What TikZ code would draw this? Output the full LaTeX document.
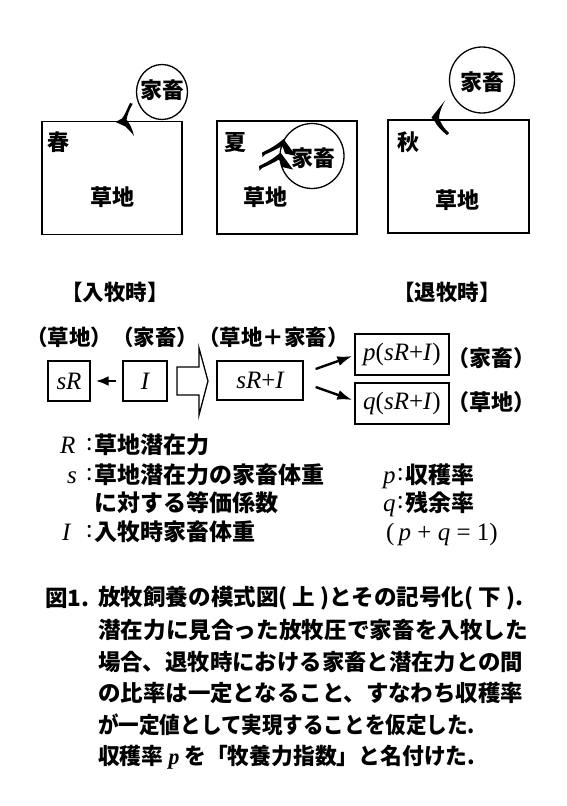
\documentclass[tikz,border=0pt]{standalone}
\usepackage{fontspec}
\usepackage{graphicx}
\setmainfont{Noto Sans CJK JP}
\newfontfamily\tms{Liberation Serif}
\usetikzlibrary{arrows.meta,calc,shapes.geometric}
\begin{document}
\begin{tikzpicture}[x=1pt,y=-1pt,
  every node/.style={inner sep=0pt, font=\bfseries\fontsize{22}{26}\selectfont},
  panel/.style={draw, line width=1.4pt, minimum width=140pt, minimum height=113pt},
  herd/.style={draw, ellipse, line width=1.3pt},
  mbox/.style={draw, line width=1.3pt, minimum height=40pt, inner sep=0pt,
    font=\tms\itshape\fontsize{25}{28}\selectfont},
  arr/.style={line width=2.4pt, -{Latex[length=15pt,width=10pt]}},
  sarr/.style={line width=2.6pt, -{Latex[length=13pt,width=10pt]}},
  lbl/.style={font=\bfseries\fontsize{21.5}{26}\selectfont},
  legtext/.style={anchor=west, font=\bfseries\fontsize{23}{28}\selectfont},
  coltext/.style={anchor=west, font=\mdseries\fontsize{23}{28}\selectfont},
  symtext/.style={anchor=base west, font=\tms\itshape\fontsize{25}{28}\selectfont},
  captext/.style={anchor=west, font=\bfseries\fontsize{22.5}{28}\selectfont},
]
\useasboundingbox (0,0) rectangle (567,806);
\fill[white] (0,0) rectangle (567,806);

% ---------- top panels ----------
\node[panel] (spring) at (112,178) {};
\node[panel] (summer) at (287,177.5) {};
\node[panel, minimum width=141pt] (autumn) at (458.5,176.5) {};

\node[herd, minimum width=51pt, minimum height=55pt] (herd1) at (162,92) {};
\node (herd1t) at (162,90) {家畜};
\node[herd, minimum width=64pt, minimum height=65pt] (herd2) at (312,156) {};
\node (herd2t) at (313,158) {家畜};
\node[herd, minimum width=65pt, minimum height=66pt] (herd3) at (482,80) {};
\node (herd3t) at (482,82) {家畜};

\node (spr) at (58,142) {春};
\node (sum) at (235,143) {夏};
\node (aut) at (408,142) {秋};
\node (g1) at (112,197) {草地};
\node (g2) at (265,197) {草地};
\node (g3) at (457,200) {草地};

% hook arrows
\fill (130,103) .. controls (127,109) and (125,115) .. (122,118.5)
  -- (115.5,122) -- (125.5,126.5) .. controls (129,130) and (131.5,132.5) .. (134,136)
  .. controls (132.5,129) and (129.5,123) .. (126.5,119.5)
  .. controls (128,113) and (130,108) .. (132.8,103.8) -- cycle;
\fill (431.5,117.5) -- (445,100.5) .. controls (441.5,107) and (439.5,112) .. (439,118)
  .. controls (441,124) and (444.5,129) .. (449,133) -- (447,135)
  .. controls (441,130.5) and (436.5,125) .. (434.5,121) -- cycle;

% chevrons (summer)
\foreach \dx/\dy in {0/0,-3/13.5}{
  \begin{scope}[shift={(\dx,\dy)}]
  \fill (283.5,139) -- (296,156) -- (285,153.5)
    .. controls (284,150) and (283,147.5) .. (282,146)
    .. controls (276,149.5) and (270,152.5) .. (265,154.5) -- (262.5,157) -- (262,152.5)
    .. controls (270,149) and (278,144) .. cycle;
  \end{scope}
}

% ---------- headings ----------
\node[lbl] (inTime) at (115,292) {【入牧時】};
\node[lbl] (outTime) at (447,292) {【退牧時】};
\node[lbl] (roles) at (187.5,337) {（草地）（家畜）（草地＋家畜）};

% ---------- symbol boxes ----------
\node[mbox, minimum width=42pt] (sR) at (69,381) {sR};
\node[mbox, minimum width=44pt] (I) at (145,381) {I};
\node[mbox, minimum width=86pt, minimum height=39pt] (sRI) at (260,380.5) {sR\textup{+}I};
\node[mbox, minimum width=94pt, minimum height=41pt] (pbox) at (402,354.5) {p\textup{(}sR\textup{+}I\textup{)}};
\node[mbox, minimum width=94pt, minimum height=41pt] (qbox) at (402,403.5) {q\textup{(}sR\textup{+}I\textup{)}};
\node[lbl, font=\bfseries\fontsize{22}{26}\selectfont] (pl) at (491,358) {（家畜）};
\node[lbl, font=\bfseries\fontsize{22}{26}\selectfont] (ql) at (491,402) {（草地）};

\draw[sarr, shorten <=6pt, shorten >=5pt] (I.west) -- (sR.east);
\draw[line width=1.3pt, line join=miter]
  (177,367) -- (199,367) -- (199,348) -- (208,381) -- (199,415) -- (199,395) -- (177,395) -- cycle;
\draw[arr] ($(sRI.east)+(12,-11.5)$) -- ($(pbox.west)+(-2,1.5)$);
\draw[arr] ($(sRI.east)+(12,6.5)$) -- ($(qbox.west)+(-2,-3.5)$);

% ---------- legend ----------
\node[symtext] (symR) at (60,453) {R};
\node[coltext] (colR) at (86,445) {:};
\node[legtext] (defR) at (94,445) {草地潜在力};
\node[symtext] (syms) at (67,483) {s};
\node[coltext] (cols) at (86,475) {:};
\node[legtext] (defs) at (94,475) {草地潜在力の家畜体重};
\node[legtext] (defs2) at (94,503) {に対する等価係数};
\node[symtext] (symI) at (62,540) {I};
\node[coltext] (colI) at (86,532) {:};
\node[legtext] (defI) at (94,532) {入牧時家畜体重};

\node[symtext] (symp) at (383,483) {p};
\node[coltext] (colp) at (397,475) {:};
\node[legtext] (defp) at (405,475) {収穫率};
\node[symtext] (symq) at (383,511) {q};
\node[coltext] (colq) at (397,503) {:};
\node[legtext] (defq) at (405,503) {残余率};
\node[symtext, font=\tms\fontsize{25}{28}\selectfont] (pq) at (386,540) {(\,\textit{p} + \textit{q} = 1)};

% ---------- caption ----------
\node[captext] (c0) at (45,598) {図1.};
\node[captext] (c1) at (98,598) {\resizebox{425pt}{\height}{放牧飼養の模式図( 上 )とその記号化( 下 ).}};
\node[captext] (c2) at (98,630) {\resizebox{430pt}{\height}{潜在力に見合った放牧圧で家畜を入牧した}};
\node[captext] (c3) at (98,662) {\resizebox{425pt}{\height}{場合、退牧時における家畜と潜在力との間}};
\node[captext] (c4) at (98,693) {\resizebox{425pt}{\height}{の比率は一定となること、すなわち収穫率}};
\node[captext] (c5) at (98,725) {\resizebox{377pt}{\height}{が一定値として実現することを仮定した.}};
\node[captext] (c6) at (98,757) {\resizebox{377pt}{\height}{収穫率 {\tms\itshape p} を「牧養力指数」と名付けた.}};
\end{tikzpicture}
\end{document}
